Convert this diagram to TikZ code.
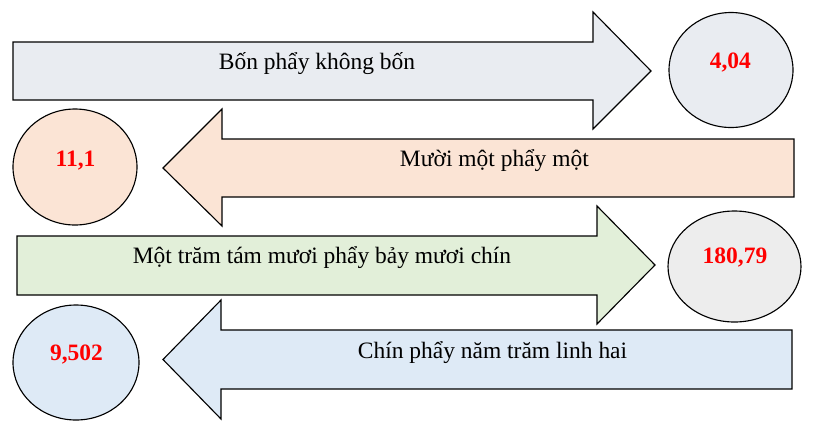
\documentclass[tikz,border=0pt]{standalone}
\usepackage{fontspec}
\setmainfont{Liberation Serif}
\usepackage{tikz}
\definecolor{grayblue}{HTML}{E9ECF1}
\definecolor{peach}{HTML}{FBE4D5}
\definecolor{palegreen}{HTML}{E2EFD9}
\definecolor{palegray}{HTML}{EDEDED}
\definecolor{paleblue}{HTML}{DEEAF6}
\tikzset{
	shapeline/.style={line width=0.8pt, draw=black},
	wordtext/.style={anchor=base, font=\fontsize{16.7}{20}\selectfont},
	numtext/.style={anchor=base, text=red, font=\fontsize{16.7}{20}\selectfont\bfseries}
}

\begin{document}
\begin{tikzpicture}
			%%%%% START %%%%%
			
			\useasboundingbox (0, 0) rectangle (20.7, 10.55);
			
			\draw[shapeline, fill=grayblue] (0.325, 9.5) -- (14.825, 9.5) -- (14.825, 10.25) -- (16.275, 8.775) -- (14.825, 7.325) -- (14.825, 8.05) -- (0.325, 8.05) -- cycle;
			\node[wordtext] (bon) at (7.925, 8.825) {Bốn phẩy không bốn};
			
			\draw[shapeline, fill=grayblue] (18.275, 8.8) ellipse (1.55 and 1.4375);
			\node[numtext] (n404) at (18.26, 8.85) {4,04};
			
			\draw[shapeline, fill=peach] (19.85, 7.075) -- (5.55, 7.075) -- (5.55, 7.825) -- (4.075, 6.35) -- (5.55, 4.9) -- (5.55, 5.625) -- (19.85, 5.625) -- cycle;
			\node[wordtext] (muoi) at (12.36, 6.4) {Mười một phẩy một};
			
			\draw[shapeline, fill=peach] (1.875, 6.375) ellipse (1.55 and 1.45);
			\node[numtext] (n111) at (1.8875, 6.4) {11,1};
			
			\draw[shapeline, fill=palegreen] (0.425, 4.65) -- (14.925, 4.65) -- (14.925, 5.4) -- (16.375, 3.925) -- (14.925, 2.45) -- (14.925, 3.175) -- (0.425, 3.175) -- cycle;
			\node[wordtext] (mottram) at (8.05, 3.975) {Một trăm tám mươi phẩy bảy mươi chín};
			
			\draw[shapeline, fill=palegray] (18.3625, 3.8875) ellipse (1.6625 and 1.3875);
			\node[numtext] (n18079) at (18.375, 3.975) {180,79};
			
			\draw[shapeline, fill=paleblue] (19.8, 2.3) -- (5.525, 2.3) -- (5.525, 3.05) -- (4.075, 1.5625) -- (5.525, 0.075) -- (5.525, 0.825) -- (19.8, 0.825) -- cycle;
			\node[wordtext] (chin) at (12.3125, 1.6) {Chín phẩy năm trăm linh hai};
			
			\draw[shapeline, fill=paleblue] (1.9, 1.4875) ellipse (1.575 and 1.4375);
			\node[numtext] (n9502) at (1.9125, 1.55) {9,502};
			
			%%%%% END %%%%%
		\end{tikzpicture}
\end{document}
